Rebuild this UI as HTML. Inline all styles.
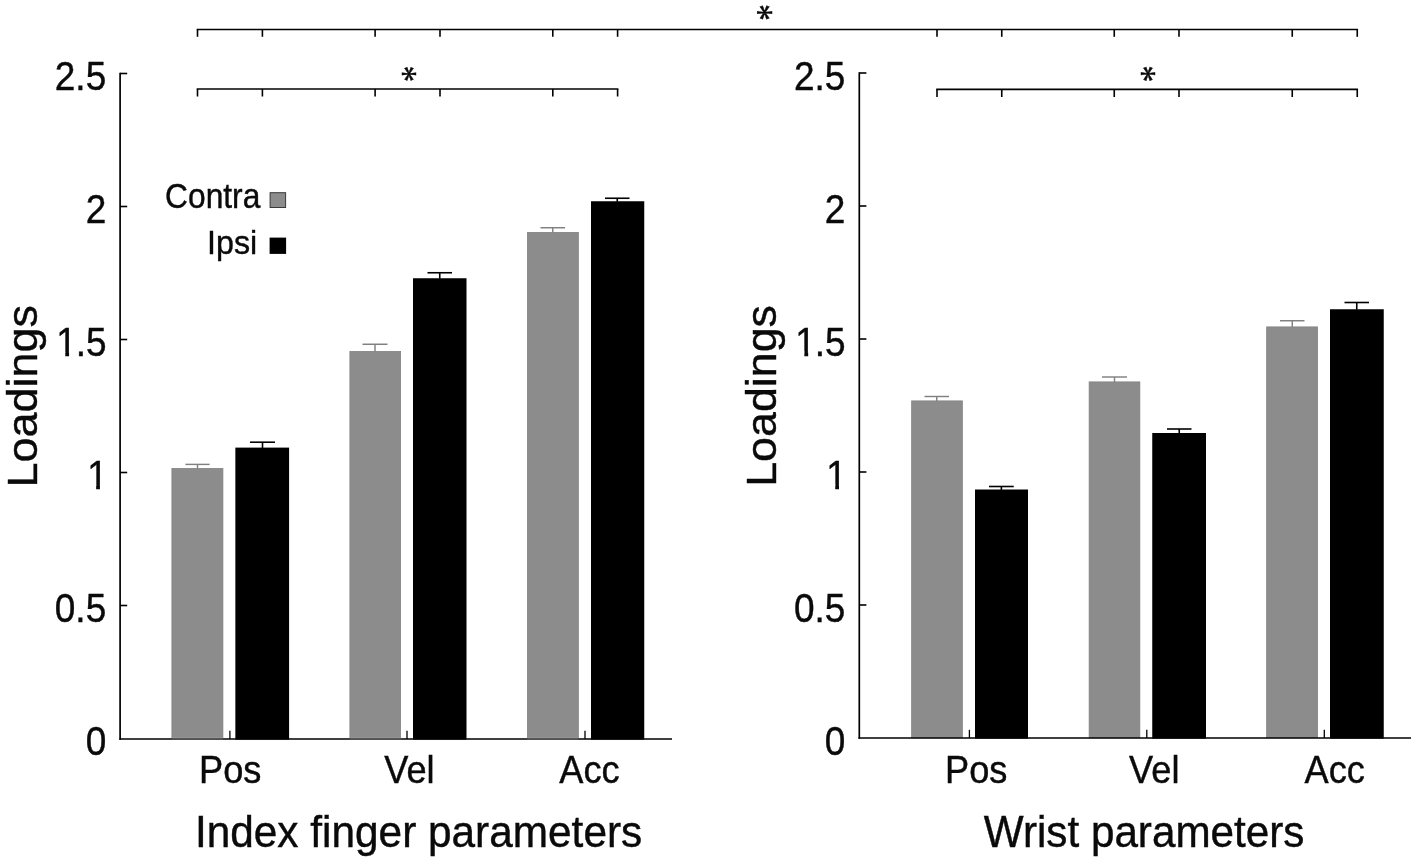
<!DOCTYPE html>
<html lang="en"><head><meta charset="utf-8"><title>Loadings of index finger and wrist parameters</title>
<style>
html,body{margin:0;padding:0;background:#fff;}
body{width:1417px;height:862px;overflow:hidden;}
svg{display:block;}
text{fill:#0a0a0a;stroke:#0a0a0a;stroke-width:0.4px;}
</style></head>
<body>
<svg width="1417" height="862" viewBox="0 0 1417 862" font-family="Liberation Sans, sans-serif">
<defs><clipPath id="c1"><path clip-rule="evenodd" d="M-80,-60H20V20H-80Z M-22.42,-3.77H-11.54V3H-22.42Z M-7.78,-3.77H1.63V3H-7.78Z"/></clipPath></defs>
<rect x="0" y="0" width="1417" height="862" fill="#ffffff"/>
<rect x="171.90" y="468.40" width="51.00" height="270.30" fill="#8c8c8c" stroke="#828282" stroke-width="0.8"/>
<line x1="197.50" y1="464.40" x2="197.50" y2="468.50" stroke="#808080" stroke-width="1.45"/>
<line x1="185.40" y1="464.40" x2="209.60" y2="464.40" stroke="#808080" stroke-width="1.45"/>
<rect x="235.35" y="447.60" width="53.75" height="292.00" fill="#000"/>
<line x1="262.50" y1="442.20" x2="262.50" y2="448.10" stroke="#000" stroke-width="1.6"/>
<line x1="250.00" y1="442.20" x2="275.00" y2="442.20" stroke="#000" stroke-width="1.6"/>
<rect x="349.90" y="351.40" width="50.70" height="387.30" fill="#8c8c8c" stroke="#828282" stroke-width="0.8"/>
<line x1="375.00" y1="344.25" x2="375.00" y2="351.50" stroke="#808080" stroke-width="1.45"/>
<line x1="362.50" y1="344.25" x2="387.50" y2="344.25" stroke="#808080" stroke-width="1.45"/>
<rect x="413.00" y="278.25" width="53.50" height="461.35" fill="#000"/>
<line x1="439.75" y1="272.75" x2="439.75" y2="278.75" stroke="#000" stroke-width="1.6"/>
<line x1="427.50" y1="272.75" x2="452.00" y2="272.75" stroke="#000" stroke-width="1.6"/>
<rect x="527.40" y="232.40" width="50.95" height="506.30" fill="#8c8c8c" stroke="#828282" stroke-width="0.8"/>
<line x1="552.75" y1="227.75" x2="552.75" y2="232.50" stroke="#808080" stroke-width="1.45"/>
<line x1="540.50" y1="227.75" x2="565.00" y2="227.75" stroke="#808080" stroke-width="1.45"/>
<rect x="591.00" y="201.25" width="53.25" height="538.35" fill="#000"/>
<line x1="617.25" y1="198.25" x2="617.25" y2="201.75" stroke="#000" stroke-width="1.6"/>
<line x1="605.00" y1="198.25" x2="629.50" y2="198.25" stroke="#000" stroke-width="1.6"/>
<rect x="911.65" y="400.90" width="50.70" height="336.80" fill="#8c8c8c" stroke="#828282" stroke-width="0.8"/>
<line x1="936.75" y1="396.50" x2="936.75" y2="401.00" stroke="#808080" stroke-width="1.45"/>
<line x1="924.50" y1="396.50" x2="949.00" y2="396.50" stroke="#808080" stroke-width="1.45"/>
<rect x="975.00" y="489.50" width="53.00" height="249.10" fill="#000"/>
<line x1="1001.38" y1="486.50" x2="1001.38" y2="490.00" stroke="#000" stroke-width="1.6"/>
<line x1="989.00" y1="486.50" x2="1013.75" y2="486.50" stroke="#000" stroke-width="1.6"/>
<rect x="1089.15" y="381.90" width="50.70" height="355.80" fill="#8c8c8c" stroke="#828282" stroke-width="0.8"/>
<line x1="1114.50" y1="377.00" x2="1114.50" y2="382.00" stroke="#808080" stroke-width="1.45"/>
<line x1="1102.00" y1="377.00" x2="1127.00" y2="377.00" stroke="#808080" stroke-width="1.45"/>
<rect x="1152.25" y="433.00" width="53.75" height="305.60" fill="#000"/>
<line x1="1179.25" y1="429.00" x2="1179.25" y2="433.50" stroke="#000" stroke-width="1.6"/>
<line x1="1167.00" y1="429.00" x2="1191.50" y2="429.00" stroke="#000" stroke-width="1.6"/>
<rect x="1266.65" y="326.90" width="50.95" height="410.80" fill="#8c8c8c" stroke="#828282" stroke-width="0.8"/>
<line x1="1292.25" y1="320.75" x2="1292.25" y2="327.00" stroke="#808080" stroke-width="1.45"/>
<line x1="1280.00" y1="320.75" x2="1304.50" y2="320.75" stroke="#808080" stroke-width="1.45"/>
<rect x="1330.00" y="309.25" width="53.75" height="429.35" fill="#000"/>
<line x1="1356.75" y1="302.50" x2="1356.75" y2="309.75" stroke="#000" stroke-width="1.6"/>
<line x1="1344.50" y1="302.50" x2="1369.00" y2="302.50" stroke="#000" stroke-width="1.6"/>
<line x1="120.10" y1="72.65" x2="120.10" y2="739.65" stroke="#000" stroke-width="1.7"/>
<line x1="119.25" y1="738.90" x2="672.00" y2="738.90" stroke="#000" stroke-width="1.5"/>
<line x1="120.10" y1="605.50" x2="127.20" y2="605.50" stroke="#000" stroke-width="1.6"/>
<line x1="120.10" y1="472.50" x2="127.20" y2="472.50" stroke="#000" stroke-width="1.6"/>
<line x1="120.10" y1="339.50" x2="127.20" y2="339.50" stroke="#000" stroke-width="1.6"/>
<line x1="120.10" y1="206.50" x2="127.20" y2="206.50" stroke="#000" stroke-width="1.6"/>
<line x1="120.10" y1="73.50" x2="127.20" y2="73.50" stroke="#000" stroke-width="1.6"/>
<line x1="229.90" y1="738.90" x2="229.90" y2="730.80" stroke="#000" stroke-width="1.3"/>
<line x1="407.00" y1="738.90" x2="407.00" y2="730.80" stroke="#000" stroke-width="1.3"/>
<line x1="585.00" y1="738.90" x2="585.00" y2="730.80" stroke="#000" stroke-width="1.3"/>
<line x1="171.50" y1="738.90" x2="223.30" y2="738.90" stroke="#5a5a5a" stroke-width="1.5"/>
<line x1="171.90" y1="737.70" x2="222.90" y2="737.70" stroke="#9a9a9a" stroke-width="0.8"/>
<line x1="349.50" y1="738.90" x2="401.00" y2="738.90" stroke="#5a5a5a" stroke-width="1.5"/>
<line x1="349.90" y1="737.70" x2="400.60" y2="737.70" stroke="#9a9a9a" stroke-width="0.8"/>
<line x1="527.00" y1="738.90" x2="578.75" y2="738.90" stroke="#5a5a5a" stroke-width="1.5"/>
<line x1="527.40" y1="737.70" x2="578.35" y2="737.70" stroke="#9a9a9a" stroke-width="0.8"/>
<line x1="859.30" y1="72.15" x2="859.30" y2="738.65" stroke="#000" stroke-width="1.7"/>
<line x1="858.45" y1="737.90" x2="1411.00" y2="737.90" stroke="#000" stroke-width="1.5"/>
<line x1="859.30" y1="605.00" x2="866.40" y2="605.00" stroke="#000" stroke-width="1.6"/>
<line x1="859.30" y1="472.00" x2="866.40" y2="472.00" stroke="#000" stroke-width="1.6"/>
<line x1="859.30" y1="339.00" x2="866.40" y2="339.00" stroke="#000" stroke-width="1.6"/>
<line x1="859.30" y1="206.00" x2="866.40" y2="206.00" stroke="#000" stroke-width="1.6"/>
<line x1="859.30" y1="73.00" x2="866.40" y2="73.00" stroke="#000" stroke-width="1.6"/>
<line x1="969.40" y1="737.90" x2="969.40" y2="729.80" stroke="#000" stroke-width="1.3"/>
<line x1="1146.80" y1="737.90" x2="1146.80" y2="729.80" stroke="#000" stroke-width="1.3"/>
<line x1="1324.30" y1="737.90" x2="1324.30" y2="729.80" stroke="#000" stroke-width="1.3"/>
<line x1="196.70" y1="29.50" x2="1358.05" y2="29.50" stroke="#000" stroke-width="1.6"/>
<line x1="197.50" y1="29.50" x2="197.50" y2="36.80" stroke="#000" stroke-width="1.6"/>
<line x1="262.40" y1="29.50" x2="262.40" y2="36.80" stroke="#000" stroke-width="1.6"/>
<line x1="375.10" y1="29.50" x2="375.10" y2="36.80" stroke="#000" stroke-width="1.6"/>
<line x1="440.00" y1="29.50" x2="440.00" y2="36.80" stroke="#000" stroke-width="1.6"/>
<line x1="552.80" y1="29.50" x2="552.80" y2="36.80" stroke="#000" stroke-width="1.6"/>
<line x1="617.60" y1="29.50" x2="617.60" y2="36.80" stroke="#000" stroke-width="1.6"/>
<line x1="937.00" y1="29.50" x2="937.00" y2="36.80" stroke="#000" stroke-width="1.6"/>
<line x1="1001.75" y1="29.50" x2="1001.75" y2="36.80" stroke="#000" stroke-width="1.6"/>
<line x1="1114.25" y1="29.50" x2="1114.25" y2="36.80" stroke="#000" stroke-width="1.6"/>
<line x1="1179.00" y1="29.50" x2="1179.00" y2="36.80" stroke="#000" stroke-width="1.6"/>
<line x1="1292.25" y1="29.50" x2="1292.25" y2="36.80" stroke="#000" stroke-width="1.6"/>
<line x1="1357.25" y1="29.50" x2="1357.25" y2="36.80" stroke="#000" stroke-width="1.6"/>
<line x1="196.70" y1="89.00" x2="618.40" y2="89.00" stroke="#000" stroke-width="1.6"/>
<line x1="197.50" y1="89.00" x2="197.50" y2="96.50" stroke="#000" stroke-width="1.6"/>
<line x1="262.40" y1="89.00" x2="262.40" y2="96.50" stroke="#000" stroke-width="1.6"/>
<line x1="375.10" y1="89.00" x2="375.10" y2="96.50" stroke="#000" stroke-width="1.6"/>
<line x1="440.00" y1="89.00" x2="440.00" y2="96.50" stroke="#000" stroke-width="1.6"/>
<line x1="552.80" y1="89.00" x2="552.80" y2="96.50" stroke="#000" stroke-width="1.6"/>
<line x1="617.60" y1="89.00" x2="617.60" y2="96.50" stroke="#000" stroke-width="1.6"/>
<line x1="936.20" y1="89.40" x2="1358.05" y2="89.40" stroke="#000" stroke-width="1.6"/>
<line x1="937.00" y1="89.40" x2="937.00" y2="97.00" stroke="#000" stroke-width="1.6"/>
<line x1="1001.75" y1="89.40" x2="1001.75" y2="97.00" stroke="#000" stroke-width="1.6"/>
<line x1="1114.25" y1="89.40" x2="1114.25" y2="97.00" stroke="#000" stroke-width="1.6"/>
<line x1="1179.00" y1="89.40" x2="1179.00" y2="97.00" stroke="#000" stroke-width="1.6"/>
<line x1="1292.25" y1="89.40" x2="1292.25" y2="97.00" stroke="#000" stroke-width="1.6"/>
<line x1="1357.25" y1="89.40" x2="1357.25" y2="97.00" stroke="#000" stroke-width="1.6"/>
<text transform="translate(106.20 755.20) scale(1.0000 1.1000)" font-size="37.0" text-anchor="end" >0</text>
<text transform="translate(106.20 622.20) scale(1.0000 1.1000)" font-size="37.0" text-anchor="end" >0.5</text>
<text transform="translate(107.70 489.20) scale(1.0000 1.1000)" font-size="37.0" text-anchor="end" clip-path="url(#c1)">1</text>
<text transform="translate(76.84 356.20) scale(1.0000 1.1000)" font-size="37.0" text-anchor="end" clip-path="url(#c1)">1</text>
<text transform="translate(106.50 356.20) scale(1.0000 1.1000)" font-size="37.0" text-anchor="end" >.5</text>
<text transform="translate(106.20 223.20) scale(1.0000 1.1000)" font-size="37.0" text-anchor="end" >2</text>
<text transform="translate(106.20 90.20) scale(1.0000 1.1000)" font-size="37.0" text-anchor="end" >2.5</text>
<text transform="translate(845.30 754.50) scale(1.0000 1.1000)" font-size="37.0" text-anchor="end" >0</text>
<text transform="translate(845.30 621.50) scale(1.0000 1.1000)" font-size="37.0" text-anchor="end" >0.5</text>
<text transform="translate(846.80 488.50) scale(1.0000 1.1000)" font-size="37.0" text-anchor="end" clip-path="url(#c1)">1</text>
<text transform="translate(815.94 355.50) scale(1.0000 1.1000)" font-size="37.0" text-anchor="end" clip-path="url(#c1)">1</text>
<text transform="translate(845.60 355.50) scale(1.0000 1.1000)" font-size="37.0" text-anchor="end" >.5</text>
<text transform="translate(845.30 222.50) scale(1.0000 1.1000)" font-size="37.0" text-anchor="end" >2</text>
<text transform="translate(845.30 89.50) scale(1.0000 1.1000)" font-size="37.0" text-anchor="end" >2.5</text>
<text transform="translate(199.10 782.80) scale(1.0000 1.0900)" font-size="36.2" text-anchor="start" >Pos</text>
<text transform="translate(384.32 782.80) scale(1.0000 1.0900)" font-size="36.2" text-anchor="start" >Vel</text>
<text transform="translate(559.32 782.80) scale(1.0000 1.0900)" font-size="36.2" text-anchor="start" >Acc</text>
<text transform="translate(945.10 782.80) scale(1.0000 1.0900)" font-size="36.2" text-anchor="start" >Pos</text>
<text transform="translate(1129.12 782.80) scale(1.0000 1.0900)" font-size="36.2" text-anchor="start" >Vel</text>
<text transform="translate(1304.62 782.80) scale(1.0000 1.0900)" font-size="36.2" text-anchor="start" >Acc</text>
<text transform="translate(194.94 846.50) scale(1.0000 1.0550)" font-size="42.36" text-anchor="start" stroke-width="0">Index finger parameters</text>
<text transform="translate(983.79 846.50) scale(0.9970 1.0550)" font-size="42.36" text-anchor="start" stroke-width="0">Wrist parameters</text>
<text transform="translate(36.70 487.60) rotate(-90) scale(1.0713 1.0200)" font-size="42.0" text-anchor="start" stroke-width="0">Loadings</text>
<text transform="translate(775.90 486.78) rotate(-90) scale(1.0664 1.0200)" font-size="42.0" text-anchor="start" stroke-width="0">Loadings</text>
<text transform="translate(165.11 207.90) scale(0.9850 1.0700)" font-size="32.2" text-anchor="start" >Contra</text>
<text transform="translate(207.10 253.70) scale(1.0000 1.0500)" font-size="32.2" text-anchor="start" >Ipsi</text>
<rect x="270.10" y="192.70" width="15.50" height="14.80" fill="#8c8c8c" stroke="#3a3a3a" stroke-width="1.0"/>
<rect x="269.60" y="237.60" width="16.50" height="16.30" fill="#000"/>
<g transform="translate(765.00 12.50) scale(1.0960 0.9375) rotate(90)"><text x="-9.000" y="16.956" font-size="36" font-family="Liberation Serif, serif" stroke-width="0">*</text></g>
<g transform="translate(409.10 73.80) scale(1.0431 0.9028) rotate(90)"><text x="-9.000" y="16.956" font-size="36" font-family="Liberation Serif, serif" stroke-width="0">*</text></g>
<g transform="translate(1148.40 73.80) scale(1.0733 0.9444) rotate(90)"><text x="-9.000" y="16.956" font-size="36" font-family="Liberation Serif, serif" stroke-width="0">*</text></g>
</svg>
</body></html>
